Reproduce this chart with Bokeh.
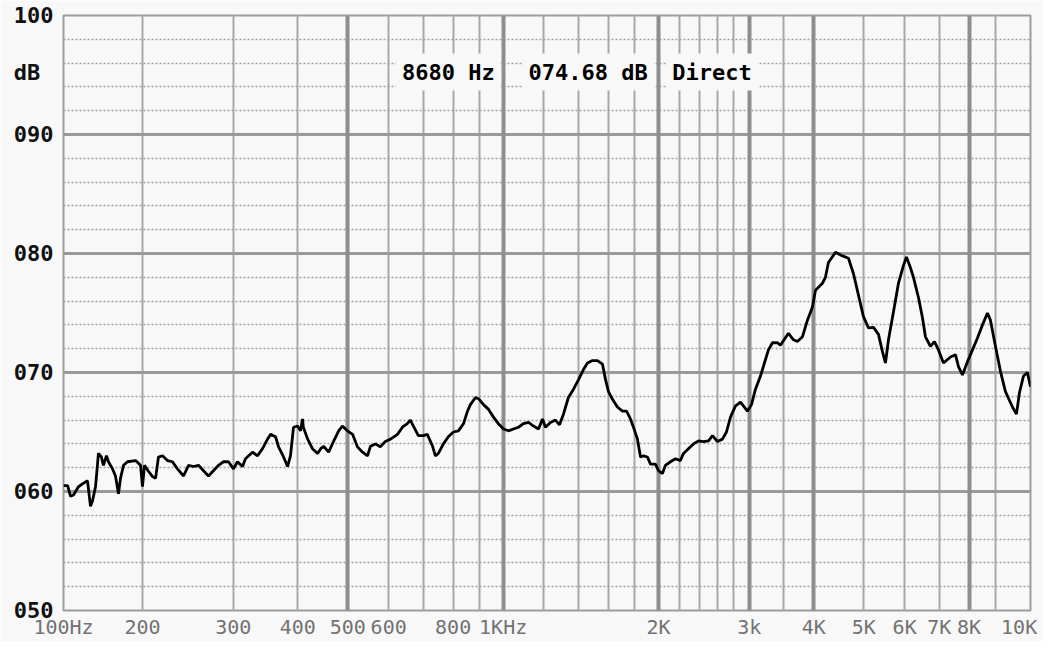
from bokeh.plotting import figure
from bokeh.models import FixedTicker, Grid, Label
from bokeh.embed import file_html
from bokeh.resources import INLINE

# Measured response (frequency in Hz, level in dB)
FREQ_HZ = [
    140.6, 143.2, 145.1, 147.0, 150.3, 153.7, 156.5, 158.6, 160.0, 162.2,
    163.6, 164.3, 166.5, 168.0, 170.3, 171.8, 175.0, 177.3, 179.7, 181.3,
    183.8, 187.1, 193.9, 198.3, 200.0, 201.8, 205.4, 209.2, 212.0, 214.8,
    218.7, 223.6, 228.6, 233.8, 240.2, 245.6, 251.1, 256.8, 262.6, 268.5,
    274.5, 280.8, 287.1, 293.6, 300.2, 305.6, 312.5, 316.7, 326.8, 334.2,
    341.7, 349.4, 354.2, 362.2, 367.1, 375.4, 382.1, 387.1, 392.4, 399.5,
    404.9, 408.5,
    410, 418, 427, 437, 443, 449, 459, 469, 480, 488,
    499, 511, 522, 534, 546, 553, 566, 578, 591, 605,
    624, 638, 652, 661, 670, 685, 701, 713, 730, 739,
    749, 766, 783, 801, 819, 838, 853, 864, 884, 896,
    916, 937, 958, 979, 1002, 1024, 1047, 1071, 1095, 1120,
    1145, 1171, 1192, 1208, 1235, 1263, 1286, 1309, 1338, 1369,
    1400, 1431, 1457, 1490, 1523, 1558, 1579, 1600, 1629, 1665,
    1703, 1734, 1765, 1789, 1821, 1846, 1870, 1904, 1930, 1973,
    2000, 2036, 2063, 2110, 2158, 2206, 2236, 2286, 2338, 2391,
    2445, 2500, 2545, 2602, 2661, 2709, 2758, 2820, 2884, 2922,
    2975, 3029, 3083, 3153, 3209, 3267, 3326, 3401, 3447, 3572,
    3653, 3718, 3802, 3888, 3976, 4029, 4157, 4213, 4270, 4406,
    4546, 4669, 4775, 4882, 4992, 5105, 5220, 5338, 5434, 5507,
    5582, 5708, 5836, 5968, 6048, 6157, 6240, 6381, 6496, 6583,
    6732, 6853, 6977, 7134, 7361, 7527, 7628, 7765, 7941, 8120,
    8303, 8490, 8682, 8798, 8997, 9200, 9407, 9706, 9881, 10014,
    10194, 10378, 10518,
]
LEVEL_DB = [
    60.5, 60.5, 59.6, 59.7, 60.4, 60.7, 60.9, 58.75, 59.2, 60.4,
    62.2, 63.2, 62.9, 62.2, 63.0, 62.5, 61.9, 61.3, 59.8, 61.1,
    62.2, 62.5, 62.6, 62.2, 60.4, 62.2, 61.7, 61.25, 61.1, 62.9,
    63.0, 62.6, 62.5, 61.9, 61.3, 62.2, 62.1, 62.2, 61.75, 61.3,
    61.75, 62.2, 62.5, 62.5, 61.9, 62.5, 62.1, 62.75, 63.3, 63.0,
    63.6, 64.4, 64.8, 64.6, 63.75, 62.9, 62.1, 63.0, 65.4, 65.5,
    65.1, 66.1,
    65.4, 64.4, 63.6, 63.2, 63.6, 63.8, 63.3, 64.2, 65.1, 65.5,
    65.1, 64.8, 63.75, 63.3, 63.0, 63.8, 64.0, 63.75, 64.2, 64.4,
    64.8, 65.4, 65.7, 66.0, 65.5, 64.7, 64.7, 64.8, 63.8, 63.0,
    63.2, 64.0, 64.6, 65.0, 65.1, 65.7, 66.75, 67.3, 67.9, 67.8,
    67.3, 66.9, 66.25, 65.7, 65.25, 65.1, 65.25, 65.4, 65.7, 65.8,
    65.5, 65.25, 66.1, 65.4, 65.8, 66.0, 65.6, 66.5, 67.9, 68.6,
    69.4, 70.25, 70.8, 71.0, 71.0, 70.7, 69.4, 68.4, 67.75, 67.1,
    66.75, 66.75, 66.1, 65.4, 64.4, 62.9, 63.0, 62.9, 62.3, 62.3,
    61.75, 61.5, 62.2, 62.5, 62.75, 62.6, 63.2, 63.6, 64.0, 64.25,
    64.2, 64.25, 64.7, 64.2, 64.4, 65.0, 66.25, 67.2, 67.5, 67.2,
    66.75, 67.3, 68.6, 69.7, 70.8, 71.9, 72.5, 72.5, 72.3, 73.3,
    72.75, 72.6, 73.0, 74.4, 75.5, 76.9, 77.5, 78.0, 79.25, 80.1,
    79.8, 79.6, 78.3, 76.5, 74.7, 73.75, 73.8, 73.2, 71.75, 70.8,
    72.75, 75.1, 77.5, 79.0, 79.7, 78.8, 78.0, 76.3, 74.6, 73.0,
    72.2, 72.6, 71.9, 70.8, 71.3, 71.5, 70.5, 69.8, 70.9, 71.9,
    72.9, 74.0, 75.0, 74.4, 72.2, 70.1, 68.4, 67.1, 66.5, 68.3,
    69.7, 70.0, 68.8,
]

# Axis ticks and grid
X_START, X_END = 140.6, 10520
X_LABEL_TICKS = [140.6, 200, 300, 400, 500, 600, 800, 1000, 2000, 3000,
                 4000, 5000, 6000, 7000, 8000, 10000]
X_LABELS = ["100Hz", "200", "300", "400", "500", "600", "800", "1KHz", "2K", "3k",
            "4K", "5K", "6K", "7K", "8K", "10K"]
GRID_THIN = [200, 300, 400, 600, 700, 800, 900, 1200, 1400, 1600, 1800,
             2200, 2400, 2600, 2800, 3500, 5000, 6000, 7000, 9000]
GRID_THICK = [500, 1000, 2000, 3000, 4000, 8000]
Y_TICKS = [50, 60, 70, 80, 90, 100]
Y_LABELS = ["050", "060", "070", "080", "090", "100"]
Y_UNIT_POS, Y_UNIT = 95.2, "dB\u00a0"
Y_MINOR = [52, 54, 56, 58, 62, 64, 66, 68, 72, 74, 76, 78, 82, 84, 86, 88, 92, 94, 96, 98]

BG = "#f8f8f8"
MONO = "DejaVu Sans Mono"

p = figure(width=1043, height=641, x_axis_type="log",
           x_range=(X_START, X_END), y_range=(50, 100),
           output_backend="svg", toolbar_location=None,
           min_border_left=63, min_border_right=13,
           min_border_top=15, min_border_bottom=29)
p.background_fill_color = BG
p.border_fill_color = BG
p.outline_line_color = "#9c9c9c"
p.outline_line_width = 2

# x axis
p.xaxis.ticker = FixedTicker(ticks=X_LABEL_TICKS)
p.xaxis.major_label_overrides = dict(zip(X_LABEL_TICKS, X_LABELS))
p.xaxis.major_label_text_font = MONO
p.xaxis.major_label_text_font_size = "20px"
p.xaxis.major_label_text_color = "#727272"
p.xaxis.major_label_standoff = 4
p.xaxis.major_tick_out = 0
p.xaxis.major_tick_in = 0
p.xaxis.major_tick_line_color = None
p.xaxis.minor_tick_line_color = None
p.xaxis.axis_line_color = None

# y axis
y_ticks = Y_TICKS + [Y_UNIT_POS]
y_labels = dict(zip(Y_TICKS, Y_LABELS))
y_labels[Y_UNIT_POS] = Y_UNIT
p.yaxis.ticker = FixedTicker(ticks=y_ticks)
p.yaxis.major_label_overrides = y_labels
p.yaxis.major_label_text_font = MONO
p.yaxis.major_label_text_font_style = "bold"
p.yaxis.major_label_text_font_size = "22px"
p.yaxis.major_label_text_color = "#111111"
p.yaxis.major_label_standoff = 10
p.yaxis.major_tick_out = 0
p.yaxis.major_tick_in = 0
p.yaxis.major_tick_line_color = None
p.yaxis.minor_tick_line_color = None
p.yaxis.axis_line_color = None

# grids
p.xgrid.ticker = FixedTicker(ticks=GRID_THIN)
p.xgrid.grid_line_color = "#a8a8a8"
p.xgrid.grid_line_width = 2
p.add_layout(Grid(dimension=0, ticker=FixedTicker(ticks=GRID_THICK),
                  grid_line_color="#8e8e8e", grid_line_width=4))
p.ygrid.ticker = FixedTicker(ticks=Y_TICKS, minor_ticks=Y_MINOR)
p.ygrid.grid_line_color = "#9a9a9a"
p.ygrid.grid_line_width = 3
p.ygrid.minor_grid_line_color = "#a0a0a0"
p.ygrid.minor_grid_line_width = 1.5
p.ygrid.minor_grid_line_dash = "2 2"

# response curve
p.line(FREQ_HZ, LEVEL_DB, line_color="#000000", line_width=2.8)

# readout texts
def readout(x, text):
    p.add_layout(Label(x=x, y=95.25, text=text, text_font=MONO,
                       text_font_style="bold", text_font_size="22px",
                       text_color="#000000", text_baseline="middle",
                       background_fill_color=BG, padding=6))

readout(620, "8680 Hz")
readout(1090, "074.68 dB")
readout(2070, "Direct")

open("out.html", "w").write(file_html(p, INLINE))
